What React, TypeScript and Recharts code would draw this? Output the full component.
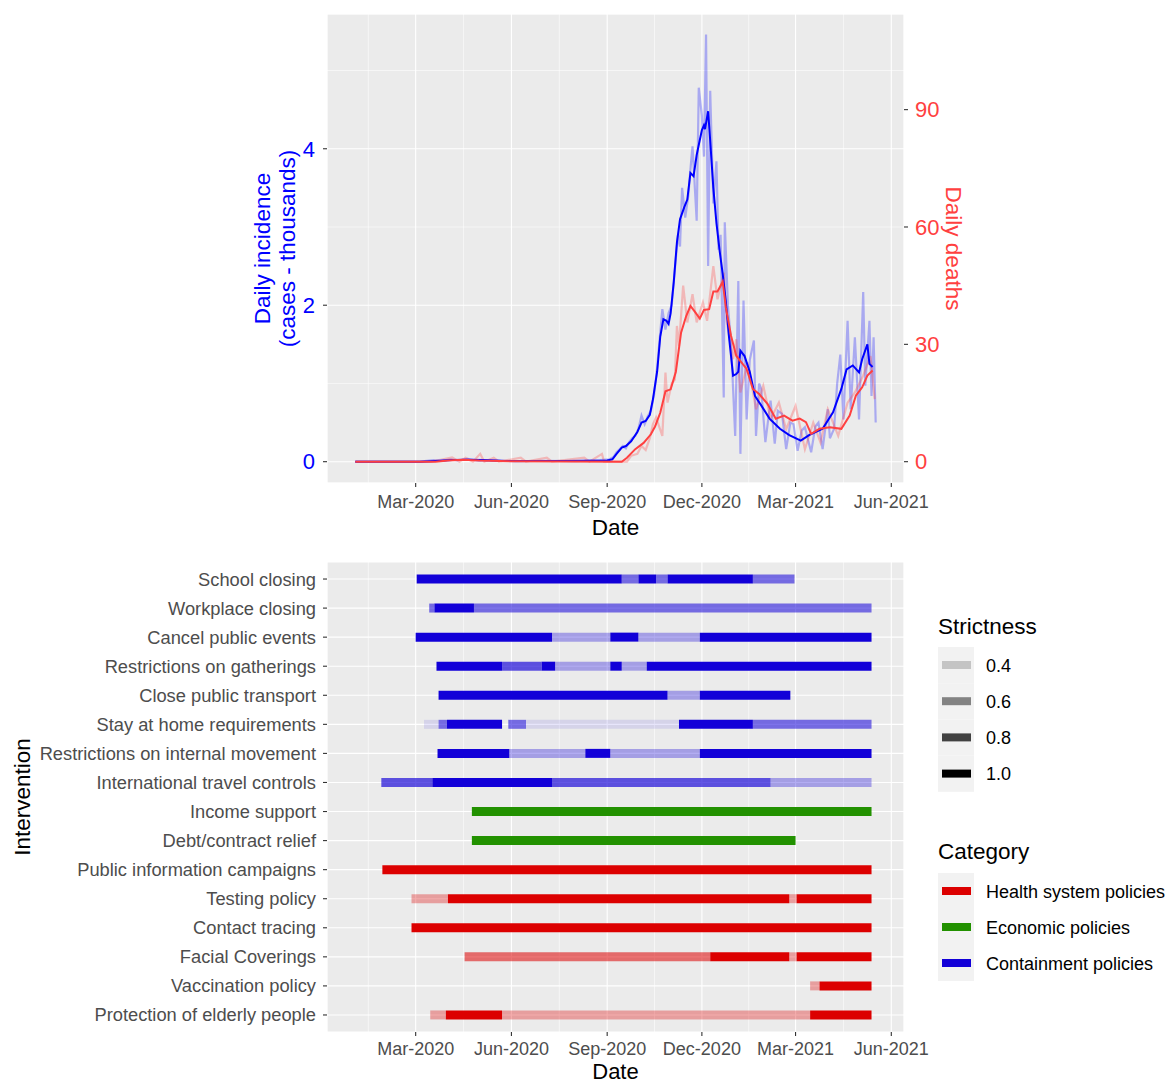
import React from 'react';
import { LineChart, Line, XAxis, YAxis, CartesianGrid, BarChart, Bar, Cell } from 'recharts';

// ---------- helpers ----------
const EPOCH = Date.UTC(2019, 11, 1);
const toDay = (s: string) => (Date.parse(s + 'T00:00:00Z') - EPOCH) / 86400000;
const MONTHS = ['Jan', 'Feb', 'Mar', 'Apr', 'May', 'Jun', 'Jul', 'Aug', 'Sep', 'Oct', 'Nov', 'Dec'];
const fmtDay = (d: number) => {
  const dt = new Date(EPOCH + Math.round(d) * 86400000);
  return `${MONTHS[dt.getUTCMonth()]}-${dt.getUTCFullYear()}`;
};

// ---------- top panel data ----------
const casesSmooth: [string, number][] = [
  ['2020-01-03', 0], ['2020-03-05', 0], ['2020-03-20', 0.01], ['2020-04-05', 0.02], ['2020-04-20', 0.025],
  ['2020-05-05', 0.02], ['2020-05-25', 0.01], ['2020-06-20', 0.008], ['2020-07-20', 0.01], ['2020-08-15', 0.012],
  ['2020-09-01', 0.015], ['2020-09-06', 0.03], ['2020-09-10', 0.1], ['2020-09-15', 0.18], ['2020-09-19', 0.2],
  ['2020-09-24', 0.26], ['2020-09-30', 0.38], ['2020-10-04', 0.5], ['2020-10-08', 0.52], ['2020-10-12', 0.6],
  ['2020-10-15', 0.8], ['2020-10-19', 1.15], ['2020-10-22', 1.6], ['2020-10-25', 1.82], ['2020-10-28', 1.8],
  ['2020-10-30', 1.76], ['2020-11-01', 1.9], ['2020-11-04', 2.3], ['2020-11-07', 2.8], ['2020-11-10', 3.1],
  ['2020-11-14', 3.25], ['2020-11-17', 3.35], ['2020-11-20', 3.69], ['2020-11-23', 3.65], ['2020-11-26', 3.92],
  ['2020-12-01', 4.24], ['2020-12-03', 4.3], ['2020-12-04', 4.25], ['2020-12-07', 4.48], ['2020-12-09', 4.1],
  ['2020-12-12', 3.5], ['2020-12-15', 3.05], ['2020-12-18', 2.7], ['2020-12-21', 2.4], ['2020-12-24', 2.05],
  ['2020-12-27', 1.6], ['2020-12-31', 1.1], ['2021-01-03', 1.12], ['2021-01-05', 1.15], ['2021-01-07', 1.42],
  ['2021-01-11', 1.35], ['2021-01-16', 1.15], ['2021-01-21', 0.84], ['2021-01-27', 0.72], ['2021-02-04', 0.55],
  ['2021-02-14', 0.42], ['2021-02-23', 0.34], ['2021-03-06', 0.27], ['2021-03-14', 0.34], ['2021-03-27', 0.42],
  ['2021-04-06', 0.63], ['2021-04-14', 0.93], ['2021-04-19', 1.18], ['2021-04-25', 1.23], ['2021-05-01', 1.14],
  ['2021-05-04', 1.31], ['2021-05-09', 1.5], ['2021-05-11', 1.25], ['2021-05-14', 1.21],
];

const casesRaw: [string, number][] = [
  ['2020-01-03', 0], ['2020-03-05', 0], ['2020-03-18', 0.02], ['2020-03-25', 0.01], ['2020-04-04', 0.03],
  ['2020-04-10', 0.015], ['2020-04-20', 0.035], ['2020-05-01', 0.01], ['2020-05-15', 0.02], ['2020-06-05', 0.005],
  ['2020-07-01', 0.012], ['2020-08-01', 0.008], ['2020-08-25', 0.02], ['2020-09-03', 0.03], ['2020-09-07', 0.06],
  ['2020-09-10', 0.12], ['2020-09-13', 0.16], ['2020-09-16', 0.2], ['2020-09-19', 0.17], ['2020-09-22', 0.25],
  ['2020-09-25', 0.3], ['2020-09-28', 0.33], ['2020-10-01', 0.42], ['2020-10-04', 0.59], ['2020-10-07', 0.48],
  ['2020-10-10', 0.58], ['2020-10-13', 0.65], ['2020-10-16', 0.85], ['2020-10-19', 1.2], ['2020-10-22', 1.65],
  ['2020-10-24', 1.95], ['2020-10-27', 1.69], ['2020-10-30', 1.9], ['2020-11-02', 2.0], ['2020-11-05', 2.45],
  ['2020-11-08', 2.9], ['2020-11-10', 2.75], ['2020-11-12', 3.5], ['2020-11-15', 3.12], ['2020-11-18', 3.4],
  ['2020-11-20', 3.74], ['2020-11-22', 4.03], ['2020-11-26', 3.08], ['2020-11-28', 4.78], ['2020-12-01', 4.42],
  ['2020-12-03', 3.9], ['2020-12-05', 5.46], ['2020-12-07', 2.5], ['2020-12-09', 4.74], ['2020-12-12', 3.3],
  ['2020-12-15', 3.84], ['2020-12-17', 2.71], ['2020-12-19', 2.9], ['2020-12-22', 0.82], ['2020-12-23', 3.06],
  ['2020-12-26', 2.0], ['2020-12-29', 1.52], ['2021-01-02', 0.33], ['2021-01-05', 2.31], ['2021-01-07', 0.1],
  ['2021-01-10', 2.06], ['2021-01-13', 0.54], ['2021-01-16', 1.3], ['2021-01-20', 1.55], ['2021-01-22', 0.33],
  ['2021-01-25', 1.0], ['2021-01-27', 0.93], ['2021-01-31', 0.25], ['2021-02-05', 0.78], ['2021-02-09', 0.23],
  ['2021-02-12', 0.65], ['2021-02-16', 0.61], ['2021-02-20', 0.16], ['2021-02-24', 0.5], ['2021-02-27', 0.48],
  ['2021-03-03', 0.14], ['2021-03-07', 0.4], ['2021-03-10', 0.44], ['2021-03-16', 0.12], ['2021-03-20', 0.45],
  ['2021-03-23', 0.5], ['2021-03-27', 0.16], ['2021-04-01', 0.67], ['2021-04-03', 0.3], ['2021-04-07', 0.42],
  ['2021-04-10', 1.0], ['2021-04-13', 1.37], ['2021-04-16', 0.54], ['2021-04-20', 1.8], ['2021-04-23', 0.67],
  ['2021-04-27', 1.59], ['2021-05-01', 0.54], ['2021-05-05', 2.17], ['2021-05-07', 0.97], ['2021-05-11', 1.8],
  ['2021-05-13', 0.84], ['2021-05-15', 1.59], ['2021-05-17', 0.5],
];

const deathsSmooth: [string, number][] = [
  ['2020-01-03', 0], ['2020-03-20', 0], ['2020-04-01', 0.3], ['2020-04-15', 0.5], ['2020-05-01', 0.3],
  ['2020-06-01', 0.1], ['2020-09-15', 0], ['2020-09-20', 1.0], ['2020-09-28', 3.2], ['2020-10-06', 4.8],
  ['2020-10-13', 7], ['2020-10-17', 9], ['2020-10-22', 12.5], ['2020-10-27', 18], ['2020-11-01', 18.5],
  ['2020-11-06', 23], ['2020-11-11', 33], ['2020-11-16', 37.3], ['2020-11-20', 39.8], ['2020-11-24', 38.4],
  ['2020-11-29', 36.6], ['2020-12-03', 38.8], ['2020-12-08', 39], ['2020-12-12', 43.5], ['2020-12-16', 43.5],
  ['2020-12-19', 45], ['2020-12-21', 46], ['2020-12-24', 39.5], ['2020-12-29', 32.2], ['2021-01-03', 27.1],
  ['2021-01-08', 25.4], ['2021-01-13', 23.7], ['2021-01-19', 18.6], ['2021-01-25', 17.3], ['2021-02-02', 14.8],
  ['2021-02-10', 11], ['2021-02-18', 11.8], ['2021-02-26', 10.5], ['2021-03-05', 11], ['2021-03-11', 10.1],
  ['2021-03-16', 7.1], ['2021-03-24', 8.4], ['2021-04-03', 8.8], ['2021-04-14', 8.4], ['2021-04-22', 11.8],
  ['2021-04-28', 16.9], ['2021-05-04', 19], ['2021-05-09', 22], ['2021-05-14', 23.3],
];

const deathsRaw: [string, number][] = [
  ['2020-01-03', 0], ['2020-03-15', 0], ['2020-03-25', 0.5], ['2020-04-05', 1.1], ['2020-04-12', 0],
  ['2020-04-18', 1], ['2020-04-25', 0], ['2020-05-02', 2], ['2020-05-06', 0], ['2020-05-15', 1],
  ['2020-05-20', 0], ['2020-06-10', 1], ['2020-06-15', 0], ['2020-07-05', 1], ['2020-07-10', 0],
  ['2020-08-10', 1], ['2020-08-15', 0], ['2020-08-27', 2], ['2020-08-29', 0], ['2020-09-20', 0],
  ['2020-09-24', 1.5], ['2020-09-30', 2], ['2020-10-04', 4], ['2020-10-08', 3], ['2020-10-12', 6],
  ['2020-10-15', 9.6], ['2020-10-18', 11.3], ['2020-10-24', 6.6], ['2020-10-27', 22.8], ['2020-10-29', 15.1],
  ['2020-11-02', 20], ['2020-11-05', 21], ['2020-11-07', 34.7], ['2020-11-09', 29.6], ['2020-11-13', 45],
  ['2020-11-17', 35.6], ['2020-11-22', 42.8], ['2020-11-26', 35.6], ['2020-12-02', 40.7], ['2020-12-06', 36],
  ['2020-12-12', 50], ['2020-12-16', 41.5], ['2020-12-22', 48.3], ['2020-12-25', 35.6], ['2020-12-31', 26.2],
  ['2021-01-03', 31.3], ['2021-01-07', 17.7], ['2021-01-14', 25.4], ['2021-01-22', 13.4], ['2021-01-29', 19.4],
  ['2021-02-05', 10.9], ['2021-02-13', 15.1], ['2021-02-20', 8.3], ['2021-03-01', 14.3], ['2021-03-10', 3.2],
  ['2021-03-18', 10], ['2021-03-25', 4.9], ['2021-04-01', 13.4], ['2021-04-11', 6.6], ['2021-04-20', 15.1],
  ['2021-04-27', 17.7], ['2021-05-05', 22], ['2021-05-12', 27], ['2021-05-16', 16],
];

// ---------- axis ticks ----------
const majorDates = ['2019-12-01', '2020-03-01', '2020-06-01', '2020-09-01', '2020-12-01', '2021-03-01', '2021-06-01', '2021-09-01'];
const dataRange = ['2020-01-01', '2021-05-19'];
const casesTicks = [0, 2, 4];
const casesMinorTicks = [1, 3, 5];
const deathsTicks = [0, 30, 60, 90];
const casesMax = 5.45;
const deathsPerThousandCases = 20;

// ---------- bottom panel data ----------
const interventions = [
  'School closing', 'Workplace closing', 'Cancel public events', 'Restrictions on gatherings',
  'Close public transport', 'Stay at home requirements', 'Restrictions on internal movement',
  'International travel controls', 'Income support', 'Debt/contract relief', 'Public information campaigns',
  'Testing policy', 'Contact tracing', 'Facial Coverings', 'Vaccination policy', 'Protection of elderly people',
];
const interventionCategory = [
  'Containment policies', 'Containment policies', 'Containment policies', 'Containment policies',
  'Containment policies', 'Containment policies', 'Containment policies', 'Containment policies',
  'Economic policies', 'Economic policies', 'Health system policies', 'Health system policies',
  'Health system policies', 'Health system policies', 'Health system policies', 'Health system policies',
];
const categories = ['Health system policies', 'Economic policies', 'Containment policies'];
const categoryColors = ['#DC0000', '#229100', '#1200D8'];
const strictnessBreaks = [0.4, 0.6, 0.8, 1.0];

type Seg = [string, string, number];
const segments: Seg[][] = [
  [['2020-03-02', '2020-09-15', 1], ['2020-09-15', '2020-10-01', 2 / 3], ['2020-10-01', '2020-10-18', 1], ['2020-10-18', '2020-10-29', 2 / 3], ['2020-10-29', '2021-01-19', 1], ['2021-01-19', '2021-02-28', 2 / 3]],
  [['2020-03-14', '2020-03-19', 2 / 3], ['2020-03-19', '2020-04-26', 1], ['2020-04-26', '2021-05-13', 2 / 3]],
  [['2020-03-01', '2020-07-10', 1], ['2020-07-10', '2020-09-04', 0.5], ['2020-09-04', '2020-10-01', 1], ['2020-10-01', '2020-11-29', 0.5], ['2020-11-29', '2021-05-13', 1]],
  [['2020-03-21', '2020-05-23', 1], ['2020-05-23', '2020-06-30', 0.75], ['2020-06-30', '2020-07-13', 1], ['2020-07-13', '2020-09-04', 0.5], ['2020-09-04', '2020-09-15', 1], ['2020-09-15', '2020-10-09', 0.5], ['2020-10-09', '2021-05-13', 1]],
  [['2020-03-23', '2020-10-29', 1], ['2020-10-29', '2020-11-29', 0.5], ['2020-11-29', '2021-02-24', 1]],
  [['2020-03-09', '2020-03-23', 1 / 3], ['2020-03-23', '2020-03-31', 2 / 3], ['2020-03-31', '2020-05-23', 1], ['2020-05-29', '2020-06-15', 2 / 3], ['2020-06-15', '2020-11-09', 1 / 3], ['2020-11-09', '2021-01-19', 1], ['2021-01-19', '2021-05-13', 2 / 3]],
  [['2020-03-22', '2020-05-30', 1], ['2020-05-30', '2020-08-11', 0.5], ['2020-08-11', '2020-09-04', 1], ['2020-09-04', '2020-11-29', 0.5], ['2020-11-29', '2021-05-13', 1]],
  [['2020-01-28', '2020-03-17', 0.75], ['2020-03-17', '2020-07-10', 1], ['2020-07-10', '2021-02-05', 0.75], ['2021-02-05', '2021-05-13', 0.5]],
  [['2020-04-24', '2021-05-13', 1]],
  [['2020-04-24', '2021-03-01', 1]],
  [['2020-01-29', '2021-05-13', 1]],
  [['2020-02-26', '2020-04-01', 0.5], ['2020-04-01', '2021-02-23', 1], ['2021-02-23', '2021-03-02', 0.5], ['2021-03-02', '2021-05-13', 1]],
  [['2020-02-26', '2021-05-13', 1]],
  [['2020-04-17', '2020-12-09', 2 / 3], ['2020-12-09', '2021-02-23', 1], ['2021-02-23', '2021-03-02', 0.5], ['2021-03-02', '2021-05-13', 1]],
  [['2021-03-15', '2021-03-24', 0.5], ['2021-03-24', '2021-05-13', 1]],
  [['2020-03-15', '2020-03-30', 0.5], ['2020-03-30', '2020-05-23', 1], ['2020-05-23', '2021-03-15', 0.5], ['2021-03-15', '2021-05-13', 1]],
];

// ---------- derived scales ----------
const d0 = toDay(dataRange[0]);
const d1 = toDay(dataRange[1]);
const X_DOMAIN: [number, number] = [d0 - (d1 - d0) * 0.05, d1 + (d1 - d0) * 0.05];
const majorDays = majorDates.map(toDay);
const MAJOR = majorDays.filter((d) => d >= X_DOMAIN[0] && d <= X_DOMAIN[1]);
const MINOR = majorDays.slice(1).map((d, i) => (d + majorDays[i]) / 2).filter((d) => d >= X_DOMAIN[0] && d <= X_DOMAIN[1]);
const LEFT_DOMAIN: [number, number] = [-casesMax * 0.05, casesMax * 1.05];
const RIGHT_DOMAIN: [number, number] = [LEFT_DOMAIN[0] * deathsPerThousandCases, LEFT_DOMAIN[1] * deathsPerThousandCases];

const toXY = (arr: [string, number][]) => arr.map(([d, v]) => ({ x: toDay(d), y: v }));
const casesSmoothData = toXY(casesSmooth);
const casesRawData = toXY(casesRaw);
const deathsSmoothData = toXY(deathsSmooth);
const deathsRawData = toXY(deathsRaw);

const alphaOf = (s: number) => Math.max(0.1, 0.1 + 0.9 * (s - 1 / 3) / (2 / 3));
const colorOf = (cat: string) => categoryColors[categories.indexOf(cat)];

const rows = interventions.map((name, i) => {
  const pieces: { len: number; s: number }[] = [];
  let cursor = 0;
  segments[i].forEach(([a, b, s]) => {
    const da = toDay(a);
    const db = toDay(b);
    if (da > cursor) pieces.push({ len: da - cursor, s: 0 });
    pieces.push({ len: db - da, s });
    cursor = db;
  });
  const row: any = { name, cat: interventionCategory[i], pieces };
  pieces.forEach((p, k) => { row[`p${k}`] = p.len; });
  return row;
});
const maxPieces = Math.max(...rows.map((r) => r.pieces.length));
const pieceKeys = Array.from({ length: maxPieces }, (_, k) => k);

// ---------- styles ----------
const FONT = '"Liberation Sans", Arial, Helvetica, sans-serif';
const GREY_TEXT = '#4D4D4D';
const BLUE = '#0000FF';
const RED = '#FF4040';
const PANEL = '#EBEBEB';

const LeftTitle = (props: any) => {
  const vb = props.viewBox || { x: 0, y: 14, width: 327, height: 469 };
  const cy = vb.y + vb.height / 2;
  const right = vb.x + vb.width;
  return (
    <g>
      <text transform={`translate(${right - 65},${cy}) rotate(-90)`} textAnchor="middle" dominantBaseline="central" fill={BLUE} fontSize={22.5}>Daily incidence</text>
      <text transform={`translate(${right - 40},${cy}) rotate(-90)`} textAnchor="middle" dominantBaseline="central" fill={BLUE} fontSize={22.5}>(cases - thousands)</text>
    </g>
  );
};
const RightTitle = (props: any) => {
  const vb = props.viewBox || { x: 904, y: 14, width: 96, height: 469 };
  const cy = vb.y + vb.height / 2;
  return (
    <text transform={`translate(${vb.x + 49},${cy}) rotate(90)`} textAnchor="middle" dominantBaseline="central" fill={RED} fontSize={22.5}>Daily deaths</text>
  );
};
const makeDateTitle = (dy: number, fs: number) => (props: any) => {
  const vb = props.viewBox || { x: 327, y: 483, width: 577, height: 57 };
  return (
    <text x={vb.x + vb.width / 2} y={vb.y + dy} textAnchor="middle" dominantBaseline="central" fill="#000" fontSize={fs}>Date</text>
  );
};
const InterventionTitle = (props: any) => {
  const vb = props.viewBox || { x: 0, y: 22, width: 327, height: 470 };
  const cy = vb.y + vb.height / 2;
  return (
    <text transform={`translate(${vb.x + 22.5},${cy}) rotate(-90)`} textAnchor="middle" dominantBaseline="central" fill="#000" fontSize={22.5}>Intervention</text>
  );
};

const TopChart = () => (
  <LineChart width={1000} height={540} margin={{ top: 14, right: 0, bottom: 0, left: 0 }}>
    <XAxis xAxisId="minor" type="number" dataKey="x" domain={X_DOMAIN} allowDataOverflow ticks={MINOR} hide />
    <YAxis yAxisId="minor" type="number" domain={LEFT_DOMAIN} allowDataOverflow ticks={casesMinorTicks} hide />
    <CartesianGrid xAxisId="minor" yAxisId="minor" stroke="#FFFFFF" strokeWidth={0.55} fill={PANEL} fillOpacity={1} />
    <CartesianGrid xAxisId="main" yAxisId="left" stroke="#FFFFFF" strokeWidth={1.1} />
    <XAxis
      xAxisId="main" type="number" dataKey="x" domain={X_DOMAIN} allowDataOverflow ticks={MAJOR} interval={0}
      tickFormatter={fmtDay} height={57} axisLine={false} tickSize={4} tickMargin={8}
      tickLine={{ stroke: '#333333', strokeWidth: 1.1 }} tick={{ fill: GREY_TEXT, fontSize: 18 }}
      label={{ content: makeDateTitle(44, 22.5) }}
    />
    <YAxis
      yAxisId="left" type="number" domain={LEFT_DOMAIN} allowDataOverflow ticks={casesTicks} interval={0}
      width={327} axisLine={false} tickSize={4} tickMargin={8}
      tickLine={{ stroke: '#333333', strokeWidth: 1.1 }} tick={{ fill: BLUE, fontSize: 22 }}
      label={{ content: LeftTitle }}
    />
    <YAxis
      yAxisId="right" orientation="right" type="number" domain={RIGHT_DOMAIN} allowDataOverflow ticks={deathsTicks} interval={0}
      width={96} axisLine={false} tickSize={4} tickMargin={7}
      tickLine={{ stroke: '#333333', strokeWidth: 1.1 }} tick={{ fill: RED, fontSize: 22 }}
      label={{ content: RightTitle }}
    />
    <Line xAxisId="main" yAxisId="left" data={casesRawData} dataKey="y" stroke={BLUE} strokeOpacity={0.28} strokeWidth={2.2} dot={false} activeDot={false} isAnimationActive={false} />
    <Line xAxisId="main" yAxisId="right" data={deathsRawData} dataKey="y" stroke={RED} strokeOpacity={0.3} strokeWidth={2.2} dot={false} activeDot={false} isAnimationActive={false} />
    <Line xAxisId="main" yAxisId="left" data={casesSmoothData} dataKey="y" stroke={BLUE} strokeWidth={2} dot={false} activeDot={false} isAnimationActive={false} />
    <Line xAxisId="main" yAxisId="right" data={deathsSmoothData} dataKey="y" stroke={RED} strokeWidth={2} dot={false} activeDot={false} isAnimationActive={false} />
  </LineChart>
);

const BottomChart = () => (
  <BarChart layout="vertical" width={1169} height={543} data={rows} margin={{ top: 22, right: 265, bottom: 0, left: 0 }} barSize={9}>
    <XAxis xAxisId="minor" type="number" domain={X_DOMAIN} allowDataOverflow ticks={MINOR} hide />
    <CartesianGrid xAxisId="minor" yAxisId="cat" horizontal={false} stroke="#FFFFFF" strokeWidth={0.55} fill={PANEL} fillOpacity={1} />
    <CartesianGrid xAxisId="main" yAxisId="cat" stroke="#FFFFFF" strokeWidth={1.1} />
    <XAxis
      xAxisId="main" type="number" domain={X_DOMAIN} allowDataOverflow ticks={MAJOR} interval={0}
      tickFormatter={fmtDay} height={51} axisLine={false} tickSize={4} tickMargin={6}
      tickLine={{ stroke: '#333333', strokeWidth: 1.1 }} tick={{ fill: GREY_TEXT, fontSize: 18 }}
      label={{ content: makeDateTitle(39.5, 22) }}
    />
    <YAxis
      yAxisId="cat" type="category" dataKey="name" width={327} padding={{ top: 2.5, bottom: 2.5 }} interval={0}
      axisLine={false} tickSize={4} tickMargin={7}
      tickLine={{ stroke: '#333333', strokeWidth: 1.1 }} tick={{ fill: GREY_TEXT, fontSize: 18.3 }}
      label={{ content: InterventionTitle }}
    />
    {pieceKeys.map((k) => (
      <Bar key={k} xAxisId="main" yAxisId="cat" dataKey={`p${k}`} stackId="s" isAnimationActive={false}>
        {rows.map((r, i) => {
          const p = r.pieces[k];
          const vis = p && p.s > 0;
          return <Cell key={i} fill={vis ? colorOf(r.cat) : 'none'} fillOpacity={vis ? alphaOf(p.s) : 0} />;
        })}
      </Bar>
    ))}
  </BarChart>
);

const LegendPanel = () => (
  <svg width={1169} height={1083} style={{ position: 'absolute', left: 0, top: 0, pointerEvents: 'none' }}>
    <text x={938} y={626} dominantBaseline="central" fontSize={22.5} fill="#000">Strictness</text>
    {strictnessBreaks.map((s, i) => (
      <g key={s}>
        <rect x={938} y={647 + i * 36.2} width={36} height={36.2} fill="#F2F2F2" />
        <rect x={942} y={647 + i * 36.2 + 14} width={29} height={8} fill="#000" fillOpacity={alphaOf(s)} />
        <text x={986} y={647 + i * 36.2 + 18.5} dominantBaseline="central" fontSize={18} fill="#000">{s.toFixed(1)}</text>
      </g>
    ))}
    <text x={938} y={851.5} dominantBaseline="central" fontSize={22.5} fill="#000">Category</text>
    {categories.map((c, i) => (
      <g key={c}>
        <rect x={938} y={873 + i * 36} width={36} height={36} fill="#F2F2F2" />
        <rect x={942} y={873 + i * 36 + 14} width={29} height={8} fill={categoryColors[i]} />
        <text x={986} y={873 + i * 36 + 18.5} dominantBaseline="central" fontSize={18} fill="#000">{c}</text>
      </g>
    ))}
  </svg>
);

export default function App() {
  return (
    <div style={{ position: 'absolute', left: 0, top: 0, width: 1169, height: 1083, background: '#FFFFFF', fontFamily: FONT, overflow: 'hidden' }}>
      <div style={{ position: 'absolute', left: 0, top: 0 }}>
        <TopChart />
      </div>
      <div style={{ position: 'absolute', left: 0, top: 540 }}>
        <BottomChart />
      </div>
      <LegendPanel />
    </div>
  );
}
